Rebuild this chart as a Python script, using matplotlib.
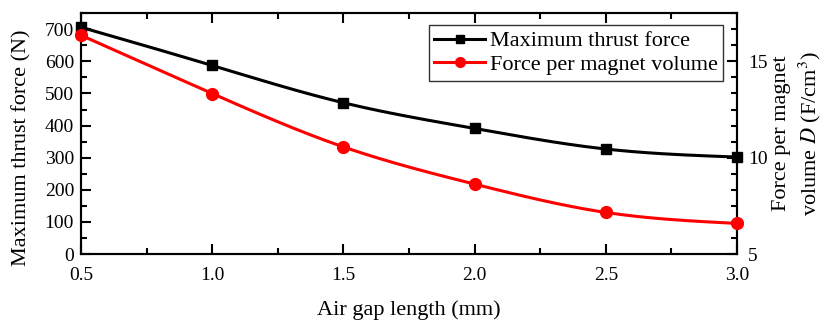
import numpy as np
import matplotlib.pyplot as plt
from matplotlib.ticker import MultipleLocator

plt.rcParams['font.family'] = ['Liberation Serif', 'DejaVu Serif']
plt.rcParams['mathtext.fontset'] = 'stix'

# data
gap = [0.5, 1.0, 1.5, 2.0, 2.5, 3.0]
thrust = [706, 587, 471, 391, 327, 302]
force_per_vol = [16.35, 13.33, 10.56, 8.63, 7.16, 6.59]


def smooth(x, y, n=200):
    # natural cubic spline through the points
    x = np.asarray(x, float)
    y = np.asarray(y, float)
    k = len(x)
    h = np.diff(x)
    A = np.zeros((k, k))
    b = np.zeros(k)
    A[0, 0] = A[-1, -1] = 1
    for i in range(1, k - 1):
        A[i, i - 1] = h[i - 1]
        A[i, i] = 2 * (h[i - 1] + h[i])
        A[i, i + 1] = h[i]
        b[i] = 6 * ((y[i + 1] - y[i]) / h[i] - (y[i] - y[i - 1]) / h[i - 1])
    m = np.linalg.solve(A, b)
    xs = np.linspace(x[0], x[-1], n)
    idx = np.clip(np.searchsorted(x, xs) - 1, 0, k - 2)
    t0 = x[idx + 1] - xs
    t1 = xs - x[idx]
    hi = h[idx]
    ys = (m[idx] * t0**3 / (6 * hi) + m[idx + 1] * t1**3 / (6 * hi)
          + (y[idx] / hi - m[idx] * hi / 6) * t0
          + (y[idx + 1] / hi - m[idx + 1] * hi / 6) * t1)
    return xs, ys


fig = plt.figure(figsize=(8.24, 3.2), dpi=100)
ax = fig.add_axes([0.0983, 0.206, 0.7961, 0.753])
ax2 = ax.twinx()

xs, ys = smooth(gap, thrust)
ax.plot(xs, ys, color='black', lw=2.2)
ax.plot(gap, thrust, 's', color='black', ms=7, clip_on=False, zorder=5)
l1, = ax.plot([], [], '-s', color='black', lw=2.2, ms=6)

xs, ys = smooth(gap, force_per_vol)
ax2.plot(xs, ys, color='red', lw=2.2)
ax2.plot(gap, force_per_vol, 'o', color='red', ms=8.5, clip_on=False, zorder=5)
l2, = ax2.plot([], [], '-o', color='red', lw=2.2, ms=7)

ax.set_xlim(0.5, 3.0)
ax.set_ylim(0, 750)
ax2.set_ylim(5, 17.5)
ax.xaxis.set_major_locator(MultipleLocator(0.5))
ax.xaxis.set_minor_locator(MultipleLocator(0.25))
ax.yaxis.set_major_locator(MultipleLocator(100))
ax.yaxis.set_minor_locator(MultipleLocator(50))
ax2.yaxis.set_major_locator(MultipleLocator(5))
ax2.yaxis.set_minor_locator(MultipleLocator(5 / 6))
ax.xaxis.set_major_formatter(plt.FormatStrFormatter('%.1f'))

for a in (ax, ax2):
    for s in a.spines.values():
        s.set_linewidth(1.5)
ax.tick_params(which='both', direction='in', top=True, labelsize=14, width=1.5)
ax.tick_params(which='major', length=7)
ax.tick_params(which='minor', length=4)
ax.tick_params(axis='x', pad=9)
ax.tick_params(axis='y', pad=5)
ax2.tick_params(which='both', direction='in', labelsize=14, width=1.5, pad=8)
ax2.tick_params(which='major', length=7)
ax2.tick_params(which='minor', length=4)

ax.set_xlabel('Air gap length (mm)', fontsize=16)
ax.set_ylabel('Maximum thrust force (N)', fontsize=16)
ax2.set_ylabel('Force per magnet\nvolume $D$ (F/cm$^3$)', fontsize=16,
               linespacing=1.3)
ax.xaxis.set_label_coords(0.5, -0.19)
ax.yaxis.set_label_coords(-0.075, 0.44)
ax2.yaxis.set_label_coords(1.053, 0.5)

leg = ax.legend([l1, l2], ['Maximum thrust force', 'Force per magnet volume'],
                loc='upper right', bbox_to_anchor=(0.979, 0.95), fontsize=16,
                frameon=True, fancybox=False, edgecolor='black',
                handlelength=2.3, borderpad=0.25, labelspacing=0.15,
                handletextpad=0.2, borderaxespad=0)
leg.get_frame().set_linewidth(1.0)

fig.savefig('out.png', dpi=100)
